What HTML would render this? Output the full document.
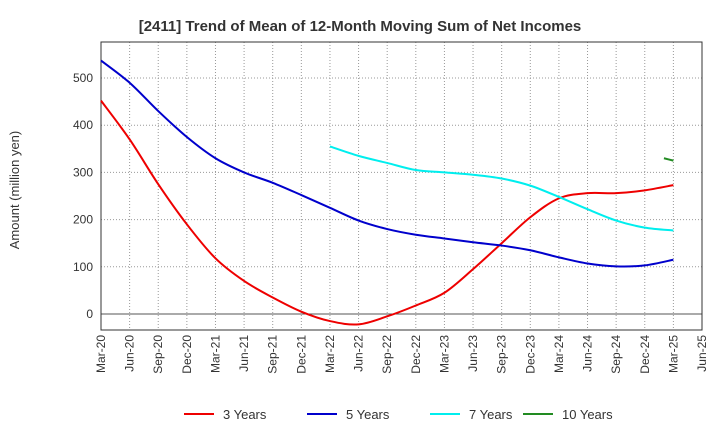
<!DOCTYPE html>
<html><head><meta charset="utf-8"><style>
body{margin:0;background:#fff;font-family:"Liberation Sans",sans-serif;}
</style></head><body>
<svg width="720" height="440" xmlns="http://www.w3.org/2000/svg" id="chart">
<text x="360" y="31" text-anchor="middle" font-size="15" font-weight="bold" fill="#333">[2411]  Trend of Mean of 12-Month Moving Sum of Net Incomes</text>
<text transform="translate(19,190) rotate(-90)" text-anchor="middle" font-size="13" fill="#333">Amount (million yen)</text>
<g id="grid"></g><g id="axes"></g><g id="series"></g><g id="legend"></g>
</svg>
<script>
const xLabels=["Mar-20","Jun-20","Sep-20","Dec-20","Mar-21","Jun-21","Sep-21","Dec-21","Mar-22","Jun-22","Sep-22","Dec-22","Mar-23","Jun-23","Sep-23","Dec-23","Mar-24","Jun-24","Sep-24","Dec-24","Mar-25","Jun-25"];
const yTicks=[0,100,200,300,400,500];
const s3=[452,370,275,190,118,70,35,5,-15,-22,-5,18,45,95,150,205,245,256,256,262,273];
const s5=[537,490,430,375,330,300,278,252,225,198,180,168,160,152,145,135,120,107,101,103,115];
const s7Start=8;
const s7=[355,335,320,305,300,295,287,272,248,222,198,183,177];
const s10Idx=[19.67,20];
const s10=[330,325];
const NS="http://www.w3.org/2000/svg";
const L=101,R=702,T=42,B=330;
const xs=i=>L+i*(R-L)/21;
const ys=v=>314-v*0.472;
function mk(tag,at,parent){const e=document.createElementNS(NS,tag);for(const k in at)e.setAttribute(k,at[k]);document.getElementById(parent).appendChild(e);return e;}
const bg=mk('rect',{x:L,y:T,width:R-L,height:B-T,fill:'none',stroke:'#333'},'axes');


xLabels.forEach((lab,i)=>{
 const x=xs(i);
 if(i>0&&i<21){const g=mk('line',{x1:x,x2:x,y1:T,y2:B,stroke:'#999','stroke-dasharray':'1,2'},'grid');
 
 }
 const t=mk('text',{transform:`translate(${x+4},${B+5}) rotate(-90)`,'text-anchor':'end','font-size':12,fill:'#333'},'axes');
 t.textContent=lab;
 
 
});
yTicks.forEach(v=>{
 const y=ys(v);
 const g=mk('line',{x1:L,x2:R,y1:y,y2:y,stroke:v===0?'#555':'#999','stroke-dasharray':v===0?'':'1,2'},'grid');
 
 
 const t=mk('text',{x:L-8,y:y+4,'text-anchor':'end','font-size':12,fill:'#333'},'axes');
 t.textContent=v;
 
 
});
function path(pts){
 let d=`M${pts[0][0]},${pts[0][1]}`;
 for(let i=0;i<pts.length-1;i++){
  const p0=pts[Math.max(0,i-1)],p1=pts[i],p2=pts[i+1],p3=pts[Math.min(pts.length-1,i+2)];
  const c1=[p1[0]+(p2[0]-p0[0])/6,p1[1]+(p2[1]-p0[1])/6],c2=[p2[0]-(p3[0]-p1[0])/6,p2[1]-(p3[1]-p1[1])/6];
  d+=` C${c1[0]},${c1[1]} ${c2[0]},${c2[1]} ${p2[0]},${p2[1]}`;
 }return d;}
function draw(vals,idxs,color,name){
 const pts=vals.map((v,i)=>[xs(idxs[i]),ys(v)]);
 const p=mk('path',{d:path(pts),fill:'none',stroke:color,'stroke-width':2},'series');
 
 
}
draw(s3,s3.map((_,i)=>i),'#e00','line-3-years');
draw(s5,s5.map((_,i)=>i),'#00c','line-5-years');
draw(s7,s7.map((_,i)=>i+s7Start),'#0ee','line-7-years');
draw(s10,s10Idx,'#228b22','line-10-years');
const leg=[["3 Years","#e00",184],["5 Years","#00c",307],["7 Years","#0ee",430],["10 Years","#228b22",523]];
leg.forEach(([n,c,x])=>{
 const l=mk('line',{x1:x,x2:x+30,y1:414,y2:414,stroke:c,'stroke-width':2},'legend');
 
 
 const t=mk('text',{x:x+39,y:419,'font-size':13,fill:'#333'},'legend');
 t.textContent=n;
 
 
});
</script>
</body></html>
